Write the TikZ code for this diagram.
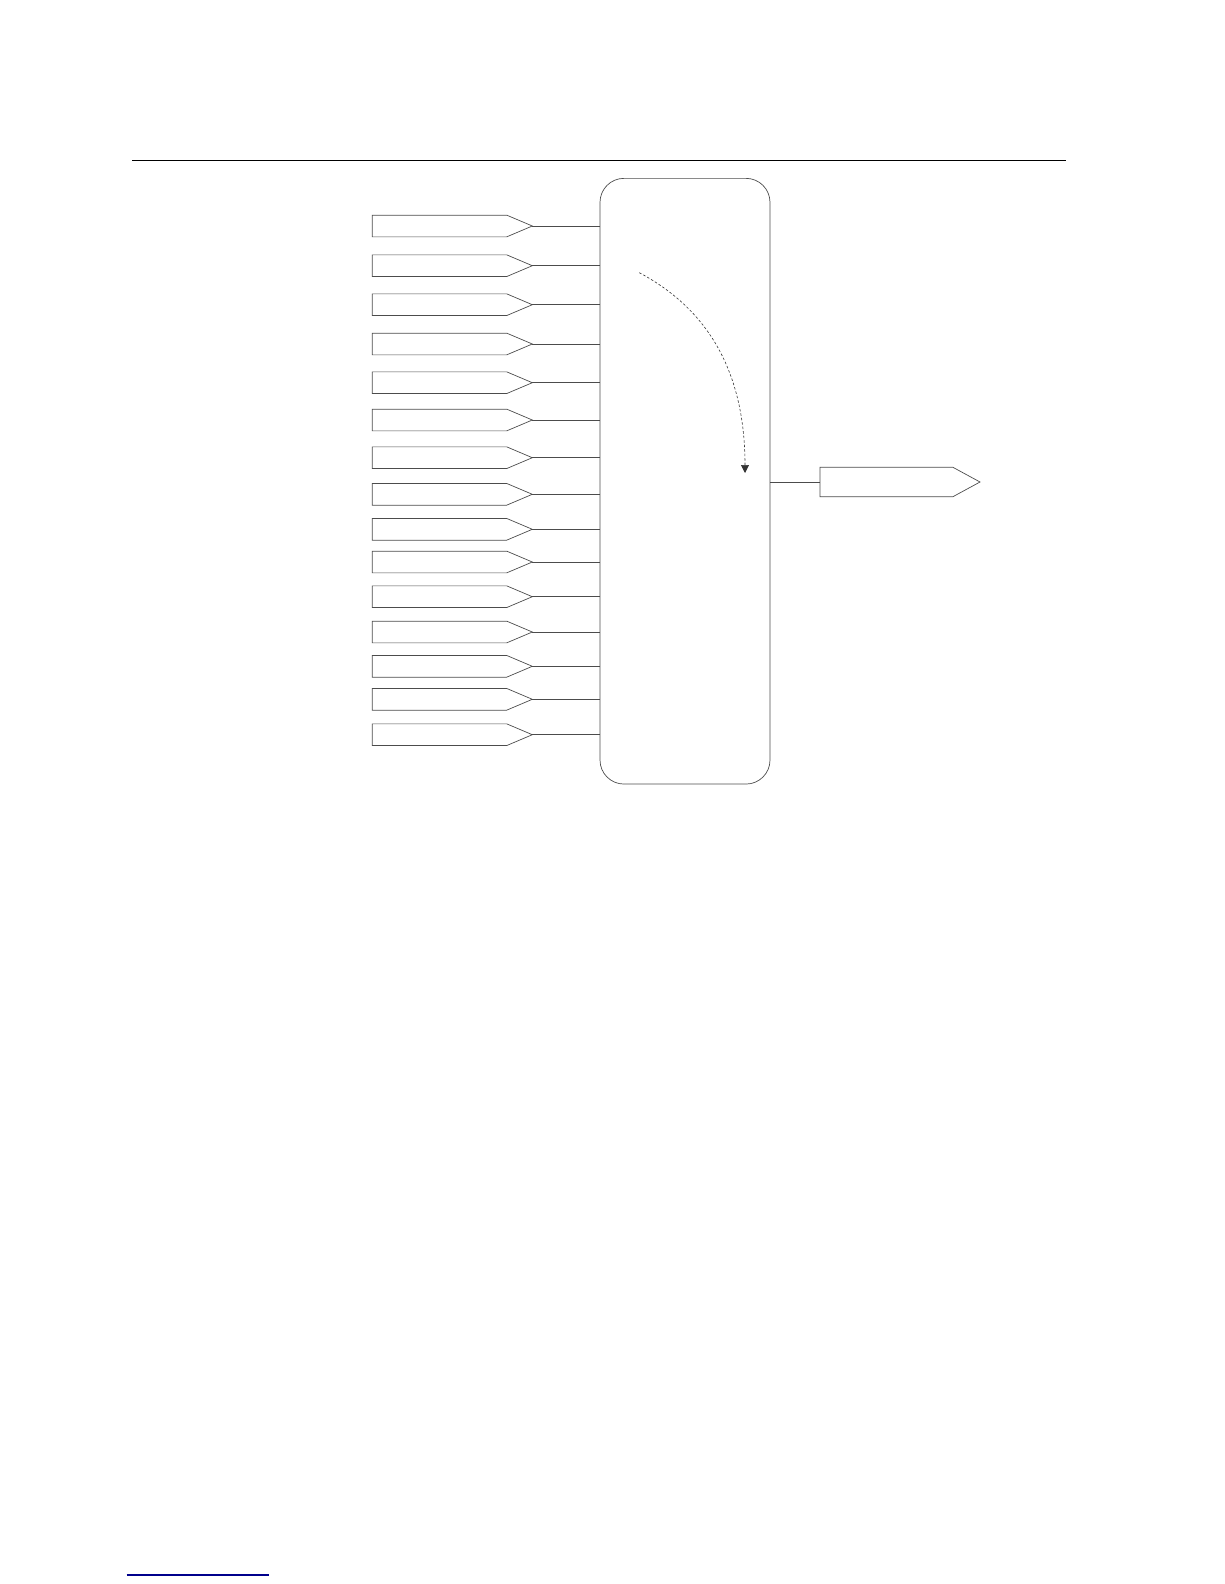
\documentclass[tikz,border=0pt]{standalone}
\usetikzlibrary{shapes.symbols,arrows.meta}

\begin{document}
\begin{tikzpicture}[x=1pt, y=-1pt,
intag/.style={signal, signal to=east, signal pointer angle=46, draw=black!70, line width=0.7pt, minimum width=160pt, minimum height=21.7pt, inner sep=0pt, outer sep=0pt, anchor=west},
outtag/.style={signal, signal to=east, signal pointer angle=57, draw=black!70, line width=0.7pt, minimum width=160pt, minimum height=29.4pt, inner sep=0pt, outer sep=0pt, anchor=west},
wire/.style={draw=black!70, line width=0.7pt}
]
    \useasboundingbox (0,0) rectangle (1224,1584);

    \draw [black, line width=1.3pt] (132,160.3) -- (1065.7,160.3);
    \draw [blue!55!black, line width=1.5pt] (126.7,1575) -- (269,1575);

    \node [draw=black!70, line width=0.7pt, rounded corners=24pt, minimum width=170pt, minimum height=605.7pt, inner sep=0pt, outer sep=0pt] (hub) at (685,481.2) {};

    \node [intag] (in1) at (372.3,226.0) {};
    \node [intag] (in2) at (372.3,265.7) {};
    \node [intag] (in3) at (372.3,304.7) {};
    \node [intag] (in4) at (372.3,344.0) {};
    \node [intag] (in5) at (372.3,382.7) {};
    \node [intag] (in6) at (372.3,420.0) {};
    \node [intag] (in7) at (372.3,457.7) {};
    \node [intag] (in8) at (372.3,494.3) {};
    \node [intag] (in9) at (372.3,529.3) {};
    \node [intag] (in10) at (372.3,562.0) {};
    \node [intag] (in11) at (372.3,596.7) {};
    \node [intag] (in12) at (372.3,632.0) {};
    \node [intag] (in13) at (372.3,666.3) {};
    \node [intag] (in14) at (372.3,699.3) {};
    \node [intag] (in15) at (372.3,734.7) {};

    \node [outtag] (out) at (820,482) {};

    \foreach \i in {1,...,15}
        \draw [wire] (in\i.east) -- (in\i.east -| hub.west);
    \draw [wire] (out.west -| hub.east) -- (out.west);

    \coordinate (sweepstart) at (639.3,272.7);
    \coordinate (sweepend) at (745,473);
    \draw [black!80, line width=0.6pt, dash pattern=on 2.5pt off 2pt, -{Triangle[width=8pt,length=8pt]}] (sweepstart) to[out=-28, in=90] (sweepend);

\end{tikzpicture}
\end{document}
